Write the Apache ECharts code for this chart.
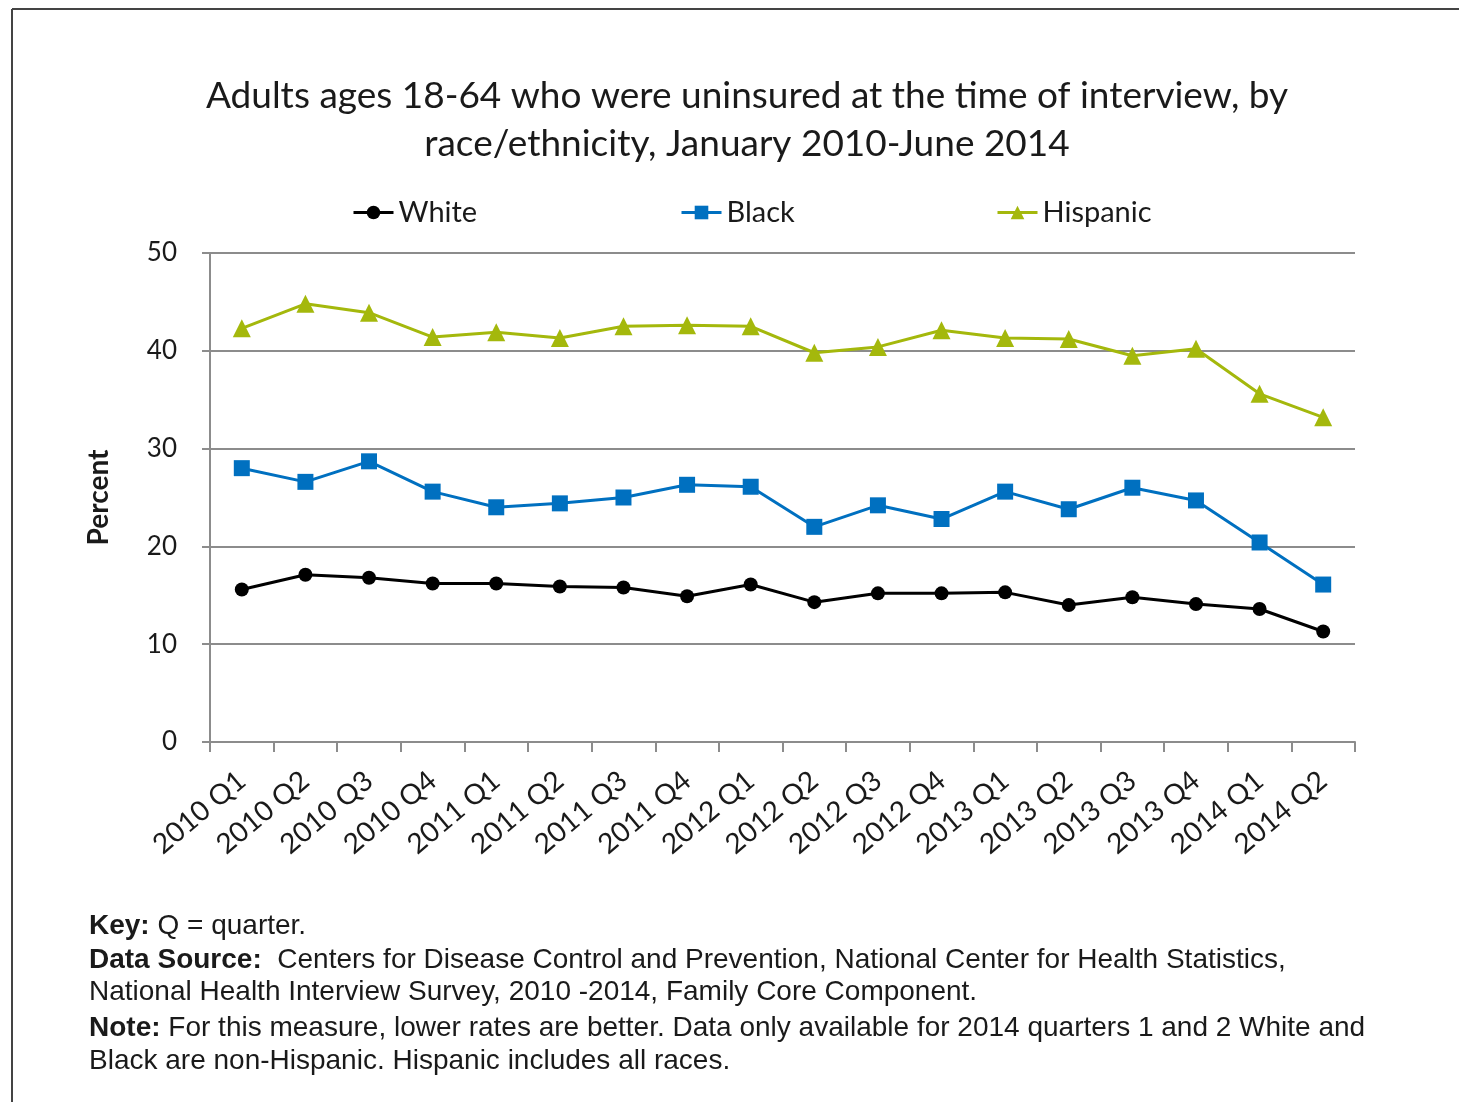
<!DOCTYPE html>
<html>
<head>
<meta charset="utf-8">
<script src="https://cdn.jsdelivr.net/npm/echarts@6/dist/echarts.min.js"></script>
<style>
  html, body { margin: 0; padding: 0; background: #fff; }
  #chart { width: 1459px; height: 1102px; }
</style>
</head>
<body>
<div id="chart"></div>
<script>
// Quarterly uninsured rates (percent), adults 18-64
const quarters = [
  '2010 Q1', '2010 Q2', '2010 Q3', '2010 Q4',
  '2011 Q1', '2011 Q2', '2011 Q3', '2011 Q4',
  '2012 Q1', '2012 Q2', '2012 Q3', '2012 Q4',
  '2013 Q1', '2013 Q2', '2013 Q3', '2013 Q4',
  '2014 Q1', '2014 Q2'
];
const white    = [15.6, 17.1, 16.8, 16.2, 16.2, 15.9, 15.8, 14.9, 16.1, 14.3, 15.2, 15.2, 15.3, 14.0, 14.8, 14.1, 13.6, 11.3];
const black    = [28.0, 26.6, 28.7, 25.6, 24.0, 24.4, 25.0, 26.3, 26.1, 22.0, 24.2, 22.8, 25.6, 23.8, 26.0, 24.7, 20.4, 16.1];
const hispanic = [42.3, 44.8, 43.9, 41.4, 41.9, 41.3, 42.5, 42.6, 42.5, 39.8, 40.4, 42.1, 41.3, 41.2, 39.5, 40.2, 35.6, 33.2];
const yTicks = { min: 0, max: 50, interval: 10 };

const sans = 'Lato, "Open Sans", sans-serif';
const foot = '"Liberation Sans", Arial, sans-serif';
const ink = '#1a1a1a';

const chart = echarts.init(document.getElementById('chart'), null, { renderer: 'canvas' });

function legendAt(name, left) {
  return {
    data: [name], left: left, top: 198, padding: 0,
    itemWidth: 40, itemHeight: 17, itemGap: 0,
    lineStyle: { width: 3 },
    textStyle: { fontFamily: sans, fontSize: 29, color: ink }
  };
}

function footLine(text, y) {
  return {
    type: 'text', x: 89, y: y,
    style: {
      text: text,
      font: '28px ' + foot, fill: ink, verticalAlign: 'middle',
      rich: { b: { fontWeight: 'bold', fontFamily: foot, fontSize: 28, fill: ink } }
    }
  };
}

chart.setOption({
  backgroundColor: '#fff',
  animation: false,
  title: {
    text: 'Adults ages 18-64 who were uninsured at the time of interview, by\nrace/ethnicity, January 2010-June 2014',
    left: 742, top: 67,
    textAlign: 'center',
    textStyle: { fontFamily: sans, fontSize: 37, fontWeight: 'normal', color: ink, lineHeight: 48 }
  },
  legend: [legendAt('White', 352), legendAt('Black', 680), legendAt('Hispanic', 996)],
  grid: { left: 210, right: 104, top: 253, bottom: 360, containLabel: false },
  xAxis: {
    type: 'category',
    data: quarters,
    boundaryGap: true,
    axisLine: { lineStyle: { color: '#8c8c8c', width: 2 } },
    axisTick: { show: true, interval: 0, length: 10, lineStyle: { color: '#8c8c8c', width: 2 } },
    axisLabel: { interval: 0, rotate: 40, fontFamily: sans, fontSize: 28, color: ink, margin: 35 }
  },
  yAxis: {
    type: 'value',
    min: yTicks.min, max: yTicks.max, interval: yTicks.interval,
    name: 'Percent',
    nameLocation: 'middle', nameRotate: 90, nameGap: 97,
    nameTextStyle: { fontFamily: sans, fontSize: 28, fontWeight: 'bold', color: ink },
    axisLine: { show: true, lineStyle: { color: '#8c8c8c', width: 2 } },
    axisTick: { show: true, length: 8, lineStyle: { color: '#8c8c8c', width: 2 } },
    axisLabel: { fontFamily: sans, fontSize: 26, color: ink, margin: 33 },
    splitLine: { lineStyle: { color: '#8c8c8c', width: 2 } }
  },
  series: [
    {
      name: 'White', type: 'line', data: white,
      symbol: 'circle', symbolSize: 14,
      lineStyle: { color: '#000', width: 3 },
      itemStyle: { color: '#000' }
    },
    {
      name: 'Black', type: 'line', data: black,
      symbol: 'rect', symbolSize: 16,
      lineStyle: { color: '#0070c0', width: 3 },
      itemStyle: { color: '#0070c0' }
    },
    {
      name: 'Hispanic', type: 'line', data: hispanic,
      symbol: 'triangle', symbolSize: 18,
      lineStyle: { color: '#a4b80c', width: 3 },
      itemStyle: { color: '#a4b80c' }
    }
  ],
  graphic: [
    // page frame
    { type: 'line', shape: { x1: 12, y1: 9, x2: 1459, y2: 9 }, style: { stroke: '#444', lineWidth: 2 } },
    { type: 'line', shape: { x1: 12, y1: 9, x2: 12, y2: 1102 }, style: { stroke: '#444', lineWidth: 2 } },
    // footnotes
    footLine('{b|Key:} Q = quarter.', 926),
    footLine('{b|Data Source:}  Centers for Disease Control and Prevention, National Center for Health Statistics,', 960),
    footLine('National Health Interview Survey, 2010 -2014, Family Core Component.', 992),
    footLine('{b|Note:} For this measure, lower rates are better. Data only available for 2014 quarters 1 and 2 White and', 1028),
    footLine('Black are non-Hispanic. Hispanic includes all races.', 1061)
  ]
});
</script>
</body>
</html>
